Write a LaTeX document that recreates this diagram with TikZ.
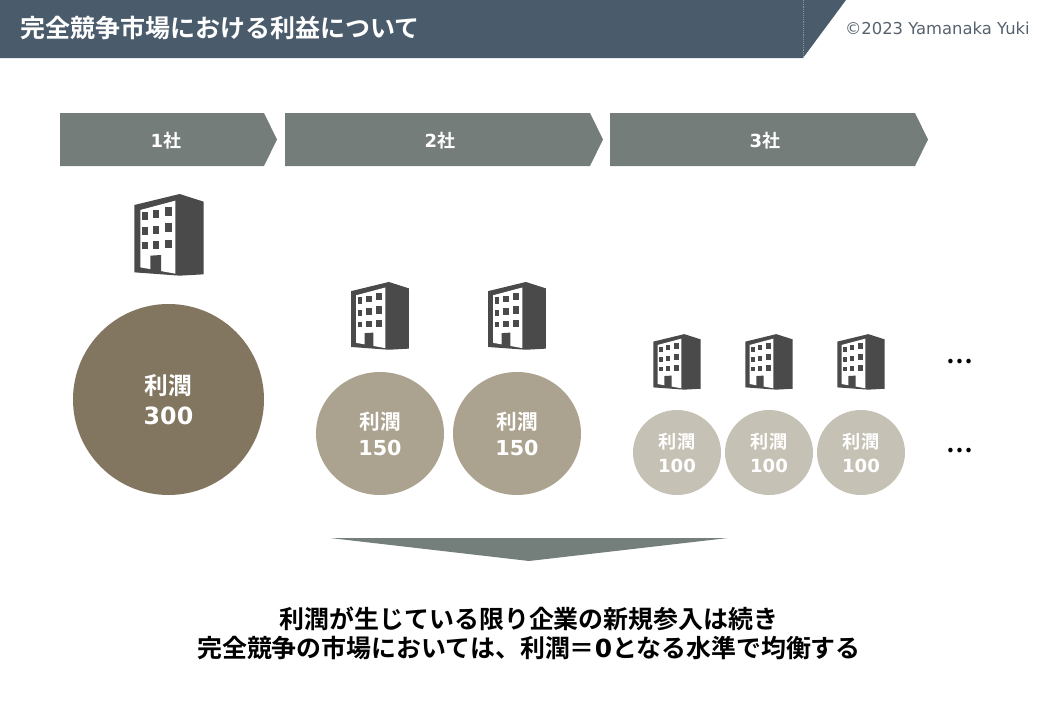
\documentclass[tikz,border=0pt]{standalone}
\usetikzlibrary{shapes.geometric}
\usepackage{fontspec}
\setmainfont{Noto Sans CJK JP}[BoldFont={Noto Sans CJK JP Bold}]
\newfontfamily\lat{DejaVu Sans}
\definecolor{bar}{HTML}{4A5B6B}
\definecolor{chev}{HTML}{757D7B}
\definecolor{tri}{HTML}{747F7B}
\definecolor{big}{HTML}{837661}
\definecolor{mid}{HTML}{ABA38F}
\definecolor{small}{HTML}{C6C1B5}
\definecolor{bld}{HTML}{4A4A4A}
\definecolor{copy}{HTML}{56626E}
\newcommand{\fs}[1]{\fontsize{#1}{#1}\selectfont}
\tikzset{
  x=0.75pt,y=-0.75pt,
  chevlabel/.style={text=white,font=\fs{13.5}\bfseries,inner sep=0pt},
  circ/.style n args={4}{ellipse,minimum width=#1*0.75pt,minimum height=#2*0.75pt,inner sep=0pt,text=white,align=center,font=\fontsize{#3}{#4}\selectfont\bfseries},
  dots/.style={font=\fs{18}\bfseries,text=black,inner sep=0pt},
  concl/.style={font=\fontsize{18.7}{21.75}\selectfont\bfseries,text=black,align=center,inner sep=0pt},
  building/.pic={
    \begin{scope}[x=0.25pt,y=-0.25pt,shift={(0,31)}]
      \fill[bld] (-104,-121) -- (32,-154) -- (104,-131) -- (104,87) -- (32,91) -- (-104,81) -- cycle;
      \fill[white] (-86,-106) -- (19,-134) -- (19,85) -- (-86,66) -- cycle;
      \foreach \xa/\xb/\ya/\yb in {
        -80/-64/-99/-76, -49/-30/-105/-82, -13/9/-115/-88,
        -80/-64/-54/-31, -49/-30/-59/-35, -13/9/-66/-40,
        -80/-64/-11/10,  -49/-30/-13/10,  -13/9/-16/8}
        {\fill[bld] (\xa,\ya) rectangle (\xb,\yb);}
      \fill[bld] (-56,31) -- (-24,29) -- (-24,80) -- (-56,75) -- cycle;
    \end{scope}
  }
}
\newcommand{\chevron}[3]{\fill[chev] (#1,113) -- (#2,113) -- (#3,139.5) -- (#2,166) -- (#1,166) -- cycle;}
\begin{document}
\begin{tikzpicture}
\useasboundingbox (0,0) rectangle (1057,728);
\fill[bar] (0,0) -- (846,0) -- (803,58) -- (0,58) -- cycle;
\draw[white,opacity=.35,line width=.4pt,densely dotted] (803,0) -- (803,58);
\node[text=white,font=\fs{18.75}\bfseries,anchor=west,inner sep=0pt] (title) at (20,27.5) {完全競争市場における利益について};
\node[text=copy,font={\fs{12.3}\lat},anchor=east,inner sep=0pt] (copyr) at (1030,28) {©2023 Yamanaka Yuki};

\chevron{60}{264}{277}
\chevron{285}{590}{603}
\chevron{610}{915}{928}
\node[chevlabel] (h1) at (166,140.5) {{\lat 1}社};
\node[chevlabel] (h2) at (440,140.5) {{\lat 2}社};
\node[chevlabel] (h3) at (765,140.5) {{\lat 3}社};

\pic at (169,235) {building};
\pic[scale=.83] at (380,316) {building};
\pic[scale=.83] at (517,316) {building};
\pic[scale=.68] at (677,362) {building};
\pic[scale=.68] at (769,362) {building};
\pic[scale=.68] at (861,362) {building};

\node[circ={191}{191}{17.8}{22.5},fill=big] (c1) at (168.5,399.5) {利潤\\{\lat 300}};
\node[circ={128}{123}{15.5}{19.5},fill=mid] (c2) at (380,433.5) {利潤\\{\lat 150}};
\node[circ={128}{123}{15.5}{19.5},fill=mid] (c3) at (517,433.5) {利潤\\{\lat 150}};
\node[circ={88}{85}{13.6}{18},fill=small] (c4) at (677,452.5) {利潤\\{\lat 100}};
\node[circ={88}{85}{13.6}{18},fill=small] (c5) at (769,452.5) {利潤\\{\lat 100}};
\node[circ={88}{85}{13.6}{18},fill=small] (c6) at (861,452.5) {利潤\\{\lat 100}};

\node[dots] (d1) at (960,362) {…};
\node[dots] (d2) at (960,451) {…};

\fill[tri] (330,538) -- (728,538) -- (529,561) -- cycle;
\node[concl] (concl) at (529,633) {利潤が生じている限り企業の新規参入は続き\\完全競争の市場においては、利潤＝{\lat 0}となる水準で均衡する};
\end{tikzpicture}
\end{document}
